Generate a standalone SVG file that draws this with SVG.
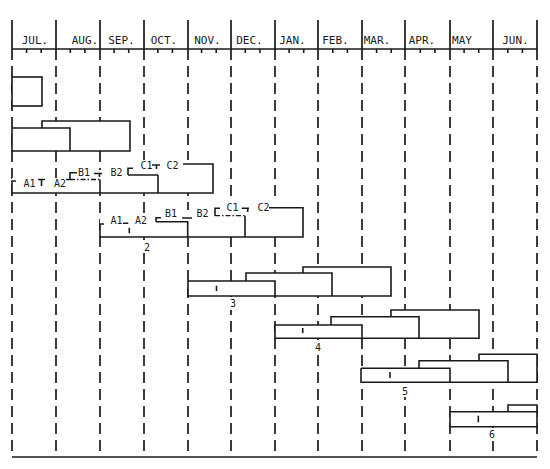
<svg xmlns="http://www.w3.org/2000/svg" width="550" height="469" viewBox="0 0 550 469">
<style>
.grid{stroke:#1a1a1a;stroke-width:1.7;stroke-dasharray:11 6;fill:none}
.hdr{stroke:#1a1a1a;stroke-width:1.7;fill:none}
.ln{stroke:#1a1a1a;stroke-width:1.6;fill:none}
.fill{fill:#fff;stroke:none}
.dd{stroke:#1a1a1a;stroke-width:1.3;fill:none;stroke-dasharray:5 2 1.5 2}
.mon{font-family:"DejaVu Sans Mono","Liberation Mono",monospace;font-size:11px;fill:#1a1a1a;text-anchor:middle}
.lb{font-family:"DejaVu Sans Mono","Liberation Mono",monospace;font-size:10px;fill:#1a1a1a;text-anchor:middle}
</style>
<rect width="550" height="469" fill="#fff"/>
<g id="header">
<path class="hdr" d="M12,20V49M56,20V49M100,20V49M144,20V49M188,20V49M231,20V49M275,20V49M318,20V49M362,20V49M405,20V49M450,20V49M493,20V49M537,20V49"/>
<path class="ln" stroke-width="2" d="M12,49H537"/>
<path class="ln" stroke-width="1.3" d="M26.6,49V53M41.2,49V53M70.3,49V53M84.9,49V53M114.1,49V53M128.7,49V53M157.8,49V53M172.4,49V53M201.6,49V53M216.2,49V53M245.3,49V53M259.9,49V53M289.1,49V53M303.7,49V53M332.8,49V53M347.4,49V53M376.6,49V53M391.2,49V53M420.3,49V53M434.9,49V53M464.1,49V53M478.7,49V53M507.8,49V53M522.4,49V53"/>
<text class="mon" x="35" y="44">JUL.</text>
<text class="mon" x="85" y="44">AUG.</text>
<text class="mon" x="121.5" y="44">SEP.</text>
<text class="mon" x="164" y="44">OCT.</text>
<text class="mon" x="207.5" y="44">NOV.</text>
<text class="mon" x="249.5" y="44">DEC.</text>
<text class="mon" x="292.5" y="44">JAN.</text>
<text class="mon" x="335.5" y="44">FEB.</text>
<text class="mon" x="377" y="44">MAR.</text>
<text class="mon" x="422" y="44">APR.</text>
<text class="mon" x="462" y="44">MAY</text>
<text class="mon" x="515.5" y="44">JUN.</text>
</g>
<g id="connectors">
<path class="grid" d="M12,49V457M56,49V457M100,49V457M144,49V457M188,49V457M231,49V457M275,49V457M318,49V457M362,49V457M405,49V457M450,49V457M493,49V457M537,49V457"/>
<path class="ln" stroke-width="1.8" d="M12,457H537"/>
</g>
<g id="bar-a">
<rect x="12" y="77" width="30" height="29" fill="#fff" stroke="#1a1a1a" stroke-width="1.6"/>
</g>
<g id="bar-b">
<path class="fill" d="M12,128H42V121H130V151H12Z"/>
<path class="ln" d="M12,128H70V151M42,128V121H130V151H12V128"/>
</g>
<g id="bar-1">
<path class="fill" d="M12,178H68V170H126V160H213V193H12Z"/>
<path class="ln" d="M16,181H12V193H213V164H183"/>
<path class="ln" d="M100,179.5V193M158,175V193M128,175H158M128,175V168.3H133"/>
<path class="ln" d="M66,179.5H70V172.7H77"/>
<path class="dd" d="M70,179.5H100"/>
<path class="ln" stroke-width="1.2" d="M38,179.5H45M41.5,179.5V186M94,173.5H102M99.5,173.5V177M152,165H160M156.5,165V169"/>
<text class="lb" x="29.5" y="186.5">A1</text>
<text class="lb" x="60" y="186.5">A2</text>
<text class="lb" x="84" y="176">B1</text>
<text class="lb" x="116.5" y="176">B2</text>
<text class="lb" x="146.5" y="168.5">C1</text>
<text class="lb" x="172.5" y="168.5">C2</text>
</g>
<g id="bar-2">
<path class="fill" d="M100,214H154V210H213V202H303V237H100Z"/>
<path class="ln" d="M104,224H100V237H303V207.7H269"/>
<path class="ln" d="M156,221.7H187.7V237M156,221.7V217.7H161M245,215.7V237M215,215.7V208.3H220"/>
<path class="dd" d="M215,215.7H245"/>
<path class="ln" stroke-width="1.2" d="M123,223.3H128.3M129.3,227.7V233.3M182,218H192M241.7,208.3H249M247.7,208.3V212"/>
<text class="lb" x="116.5" y="224">A1</text>
<text class="lb" x="141" y="224">A2</text>
<text class="lb" x="171" y="217">B1</text>
<text class="lb" x="202.5" y="217">B2</text>
<text class="lb" x="232.5" y="210.5">C1</text>
<text class="lb" x="263.5" y="210.5">C2</text>
<rect x="143" y="240" width="8" height="13" fill="#fff"/>
<text class="lb" x="147" y="251">2</text>
</g>
<g id="bar-3">
<path class="fill" d="M188,281H246V273H303V267H391V296H188Z"/>
<path class="ln" d="M188,281H275V296M246,281V273H332V296M303,273V267H391V296H188V281"/>
<path class="ln" stroke-width="1.2" d="M216.5,285.7V291"/>
<rect x="229" y="297" width="8" height="13" fill="#fff"/>
<text class="lb" x="233" y="307">3</text>
</g>
<g id="bar-4">
<path class="fill" d="M275,325H331V316.7H391V310H479V338.3H275Z"/>
<path class="ln" d="M275,325H362V338.3M331,325V316.7H419V338.3M391,316.7V310H479V338.3H275V325"/>
<path class="ln" stroke-width="1.2" d="M302.7,328V333"/>
<rect x="314" y="340" width="8" height="13" fill="#fff"/>
<text class="lb" x="318" y="350.5">4</text>
</g>
<g id="bar-5">
<path class="fill" d="M361,368.3H419V360.7H479V354.3H537V382.3H361Z"/>
<path class="ln" d="M361,368.3H450V382.3M419,368.3V360.7H508V382.3M479,360.7V354.3H537V382.3H361V368.3"/>
<path class="ln" stroke-width="1.2" d="M390,372V378"/>
<rect x="401" y="384" width="8" height="13" fill="#fff"/>
<text class="lb" x="405" y="394.5">5</text>
</g>
<g id="bar-6">
<path class="fill" d="M450,411.7H508V405H537V426.7H450Z"/>
<path class="ln" d="M450,411.7H537V426.7H450V411.7M508,411.7V405H537V411.7"/>
<path class="ln" stroke-width="1.2" d="M478.3,415.7V422.3"/>
<rect x="488" y="428" width="8" height="13" fill="#fff"/>
<text class="lb" x="492" y="438">6</text>
</g>
</svg>
